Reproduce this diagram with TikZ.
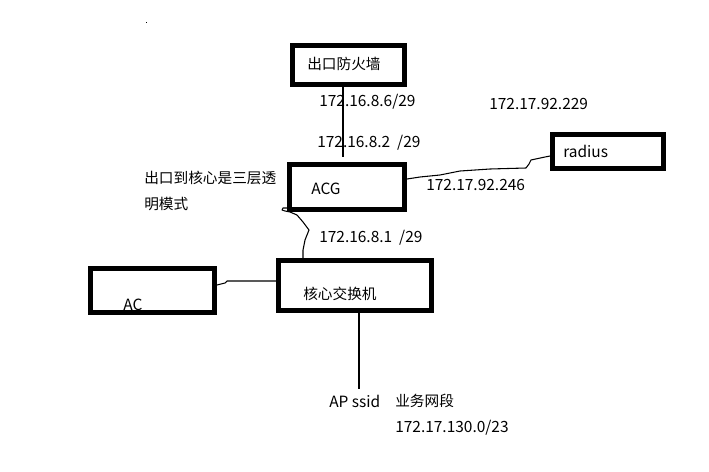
\documentclass[tikz,border=0pt]{standalone}
\usepackage{fontspec}
\setmainfont{Noto Sans CJK SC}
\begin{document}
\begin{tikzpicture}[x=0.75pt,y=-0.75pt,
  box/.style={draw=black,line width=4.1pt,inner sep=0pt,fill=none},
  lbl/.style={inner sep=0pt,anchor=west,font=\fontsize{11pt}{13pt}\selectfont},
  num/.style={inner sep=0pt,anchor=west,font=\fontsize{11.6pt}{13pt}\selectfont},
  wire/.style={draw=black,line width=0.8pt,line join=round}]
\useasboundingbox[fill=white] (0,0) rectangle (709,471);
% boxes
\node[box,minimum width=111.5*0.75pt,minimum height=38.5*0.75pt] (fw) at (348.5,65) {};
\node[box,minimum width=114.5*0.75pt,minimum height=44.5*0.75pt] (acg) at (347,187) {};
\node[box,minimum width=110.5*0.75pt,minimum height=33.5*0.75pt] (rad) at (608,151.5) {};
\node[box,minimum width=152.5*0.75pt,minimum height=49.5*0.75pt] (core) at (355,285.5) {};
\node[box,minimum width=123.5*0.75pt,minimum height=43.5*0.75pt] (ac) at (152.5,290.5) {};
% box texts
\node[lbl] (tfw) at (307,64) {出口防火墙};
\node[num] (tacg) at (311,189) {ACG};
\node[num] (trad) at (563,151) {radius};
\node[lbl] (tcore) at (303,294) {核心交换机};
\node[num] (tac) at (123,305) {AC};
% labels
\node[num] (l1) at (319,102) {172.16.8.6/29};
\node[num] (l2) at (317,143) {172.16.8.2\ \ /29};
\node[num] (l3) at (489,104) {172.17.92.229};
\node[num] (l4) at (426,185) {172.17.92.246};
\node[num] (l5) at (319,238) {172.16.8.1\ \ /29};
\node[lbl] (n1) at (144,178) {出口到核心是三层透};
\node[lbl] (n2) at (144,204) {明模式};
\node[num] (ap) at (329,401) {AP ssid};
\node[lbl] (yw) at (395,401) {业务网段};
\node[num] (net) at (395,428) {172.17.130.0/23};
\coordinate (apend) at (359,389);
\coordinate (fwend) at (343,157);
% connectors
\draw[wire] (fw.south -| fwend) -- (fwend);
\draw[wire] ([yshift=4*0.75pt]acg.south west) -- ++(-4,0) -- ++(-1,2) -- ++(3,1)
  -- (290,212) -- (297,215) -- (303,222) -- (309,230) -- (305,240) -- (303,250) -- (core.north -| 303,0);
\draw[wire] ([yshift=8*0.75pt]acg.east) -- (420,177) -- (440,175) -- (460,171) -- (490,169)
  -- (526,168) -- (529,164) -- (531,160) -- (545,157) -- (rad.west |- 0,156);
\draw[wire] (ac.east |- 0,285) -- (225,283) -- (227,281) -- (core.west |- 0,281);
\draw[wire] (core.south -| apend) -- (apend);
% stray dot
\fill[black] (145.5,21.5) rectangle (147,23);
\end{tikzpicture}
\end{document}
